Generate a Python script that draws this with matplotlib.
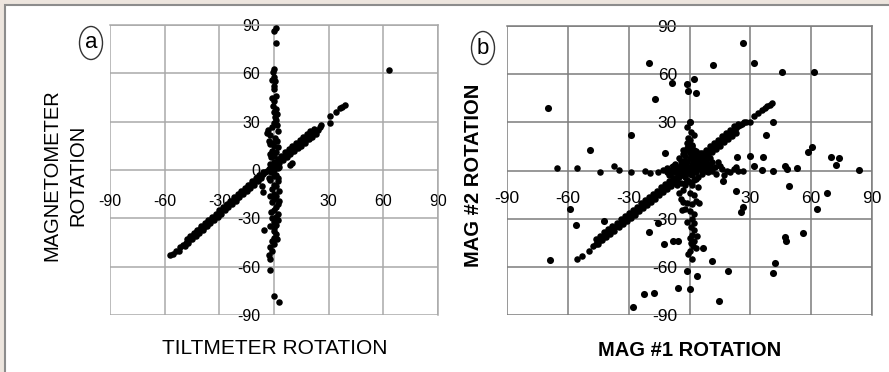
import numpy as np
import matplotlib.pyplot as plt
from matplotlib.patches import Rectangle, Ellipse

plt.rcParams['font.family'] = ['Liberation Sans', 'DejaVu Sans']

# panel a: tiltmeter rotation (x) vs magnetometer rotation (y), degrees
a_diag = [(-57, -53), (-55.5, -52), (-54, -50.5), (-51.5, -48), (-50, -46.5), (-48.5, -45),
          (-47, -44), (-46, -42), (-45, -41.5), (-44, -40), (-43, -39.5), (-42, -38),
          (-41, -37.5), (-40, -36), (-39, -36), (-38, -34.5), (-37, -33.5), (-36, -32),
          (-35, -31.5), (-34, -30.5), (-33, -29.5), (-32, -28.5), (-31, -27.5), (-30, -26.5),
          (-29, -25.5), (-28, -24.5), (-27, -23.5), (-26, -22.5), (-25, -21.5), (-24, -20.5),
          (-23, -19.5), (-22, -18.5), (-21, -17.5), (-20, -16.5), (-19, -15.5), (-18, -14.5),
          (-17, -13.5), (-16, -12.5), (-15, -11.5), (-14, -10.5), (-13, -9.5), (-12, -8.5),
          (-11, -7.5), (-10, -6.5), (-9, -5.5), (-8, -4.5), (-7, -3.5), (-6, -2.5), (-5, -1.5),
          (-4, -0.5), (-3, 0.5), (-2, 1.5), (-1, 2.5), (0, 3.5), (1, 4.5), (2, 5), (3, 6),
          (4, 7), (5, 8), (6, 8.5), (7, 9.5), (8, 10.5), (9, 11.5), (10, 12), (11, 13),
          (12, 14), (13, 15), (14, 16), (15, 16.5), (16, 17.5), (17, 18.5), (18, 19.5),
          (19, 20.5), (20, 21.5), (21, 22), (22, 23), (23, 24), (24, 25), (25, 27), (26, 28),
          (30.5, 29), (31, 33.5), (34, 36), (36, 38.5), (37.5, 39), (39, 40.3)]
a_hi = [(-48, -43), (-46, -41), (-44, -39), (-42, -37), (-40, -35), (-38, -33), (-36, -31),
        (-34, -29), (-32, -27), (-30, -25), (-28, -23), (-26, -21), (-24, -19), (-22, -17),
        (-20, -15), (-18, -13), (-16, -11), (-14, -9), (-12, -7), (-10, -5), (-8, -3),
        (-6, -1), (2, 7), (4, 9), (6, 11), (8, 13), (10, 15), (12, 16.5), (14, 18.5),
        (16, 20.5), (18, 22.5), (20, 24), (22, 25.5)]
a_lo = [(-52, -50), (-49, -47), (-47, -45), (-45, -43), (-43, -41), (-41, -39), (-39, -37),
        (-37, -35), (-35, -33), (-33, -31), (-31, -29), (-29, -27), (-27, -25), (-25, -23),
        (-23, -21), (-21, -19), (-19, -17), (-17, -15), (-15, -13), (-13, -11), (-11, -9),
        (-9, -7), (-7, -5), (3, 4.5), (5, 6.5), (7, 8), (9, 10), (11, 11.5), (13, 13.5),
        (15, 15), (17, 17), (19, 19), (21, 20.5), (23, 22.5)]
a_vertical = [(1, 88), (0, 86), (1, 79), (0, 63), (-0.5, 61), (0, 58), (0.5, 55), (0, 52),
              (0, 50), (1, 46), (0, 43), (-0.5, 40), (1, 38), (0, 36), (0.5, 33), (1, 31),
              (0, 29), (-1, 27), (-3.5, 25), (-4, 23), (-2, 22), (0.5, 20), (1.5, 18),
              (-1, 17), (0, 15), (2, 14), (-1, 12), (1, 11), (0, 9), (-1.5, 8), (2, 6),
              (0, 5), (-1, 3), (1, 2), (0, 0), (-1.5, -1), (1, -3), (0, -4), (-2, -6),
              (2, -7), (0, -9), (1, -10), (-1, -12), (2.5, -13), (0, -15), (1, -16),
              (0, -18), (-1, -20), (2, -21), (1, -23), (0, -25), (2, -27), (1, -29),
              (-1, -30), (0, -32), (1, -34), (0, -36), (0, -38), (1, -40), (0, -42),
              (-1, -44), (0, -46), (-2, -48), (-1, -50), (-2.5, -53), (-2, -55), (-2, -62),
              (-5.5, -37), (0, -78), (2.5, -82), (-2, 10), (2, -5), (2.5, -19), (-2, -35),
              (1.5, 35), (-1, 45), (-2, 16), (2, 24), (-2, -16), (2, -31), (-1.5, -26),
              (1.5, -43), (-2, 4), (2, 1), (-3, 18), (1.5, 28), (-1, 56)]
a_other = [(63, 62), (9, 3), (9.7, 4.1), (-6.8, -10), (-5.9, -13.5), (3, 2), (-3, -5)]

# panel b: mag #1 rotation (x) vs mag #2 rotation (y), degrees
b_diag = [(-55.6, -55), (-53, -53), (-49.5, -50), (-47.5, -47), (-46, -45.5), (-45, -44),
          (-44, -43.5), (-43, -42), (-42, -41), (-41, -40), (-40, -39), (-39, -37.5),
          (-38, -37), (-37, -36), (-36, -34.5), (-35, -34), (-34, -33), (-33, -32),
          (-32, -31), (-31, -29.5), (-30, -29), (-29, -28), (-28, -26.5), (-27, -26),
          (-26, -25), (-25, -23.5), (-24, -23), (-23, -22), (-22, -20.5), (-21, -20),
          (-20, -19), (-19, -17.5), (-18, -17), (-17, -16), (-16, -14.5), (-15, -14),
          (-14, -13), (-13, -11.5), (-12, -11), (-11, -10), (-10, -8.5), (-9, -8),
          (-8, -7), (-7, -5.5), (-6, -5), (-5, -4), (-4, -2.5), (-3, -2), (-2, -1),
          (-1, 0.5), (0, 1.5), (1, 3), (2, 4), (3, 5), (4, 6), (5, 7.5), (6, 8.5),
          (7, 9.5), (8, 10.5), (9, 12), (10, 13), (11, 14), (12, 15), (13, 16), (14, 17),
          (15, 18), (16, 19.5), (17, 20.5), (18, 21.5), (19, 22.5), (20, 23.5), (21, 24.5),
          (22, 25.5), (23, 26.5), (24, 27.5), (25, 28.5), (26, 29), (27, 30), (28, 30.5),
          (30, 30), (32, 34), (34, 36), (35.7, 37.5), (37, 39), (38.2, 40), (39.5, 41),
          (40.5, 42)]
b_hi = [(-46, -42.5), (-44, -40.5), (-42, -38.5), (-40, -36.5), (-38, -34.5), (-36, -32.5),
        (-34, -30.5), (-32, -28.5), (-30, -26.5), (-28, -24.5), (-26, -22.5), (-24, -20.5),
        (-22, -18.5), (-20, -16.5), (-18, -14.5), (-16, -12.5), (-14, -10.5), (-12, -8.5),
        (-10, -6.5), (-8, -4.5), (4, 9), (6, 11), (8, 13), (10, 15), (12, 17), (14, 19),
        (16, 21.5), (18, 23.5), (20, 25.5), (22, 27.5), (24, 29)]
b_lo = [(-45, -45.5), (-43, -43.5), (-41, -41.5), (-39, -39.5), (-37, -37.5), (-35, -35.5),
        (-33, -33.5), (-31, -31.5), (-29, -29.5), (-27, -27.5), (-25, -25.5), (-23, -23.5),
        (-21, -21.5), (-19, -19.5), (-17, -17.5), (-15, -15.5), (-13, -13.5), (-11, -11.5),
        (-9, -9.5), (-7, -7.5), (5, 5), (7, 7), (9, 9.5), (11, 11.5), (13, 13.5),
        (15, 15.5), (17, 17.5), (19, 19.5), (21, 21.5), (23, 23.5)]
b_blob = [(-6, 2), (-4, 4), (-2, 6), (0, 8), (2, 10), (-3, 0), (-1, 2), (1, 4), (3, 6),
          (5, 8), (0, -2), (2, 0), (4, 2), (6, 4), (8, 6), (-2, -4), (1, -3), (3, -1),
          (5, 1), (7, 3), (9, 4), (-5, -2), (-4, 6), (0, 12), (-1, 14), (1, 16), (4, 10),
          (-7, 4), (-8, 1), (6, -2), (3, -5), (-1, -6), (10, 8), (8, 0), (2, 13), (-3, 10),
          (11, 5), (-9, -1), (-10, -3), (-8, -5), (-6, -7), (-4, -8), (-2, -9), (0, -7),
          (2, -6), (4, -4), (6, 0), (8, 2), (10, 2), (-7, -1), (-5, 1), (-3, 3), (-1, 5),
          (1, 7), (3, 9), (5, 11), (-2, 9), (0, 11), (2, 1), (4, 5), (-5, 8), (-8, 3),
          (-6, -4), (-4, -1), (-1, -1), (1, 0), (3, 3), (6, 6), (7, 1), (-9, -7), (1, -9),
          (-3, 13), (0, 15), (3, 12), (8, 9), (-11, -1)]
b_vertical = [(0.3, 30), (0.7, 24), (-0.5, 20), (-1.3, 17), (1, 15), (-2, 12), (0, 19),
              (-1, 27), (2, 22), (-3, -12), (0, -14), (2, -15), (-4, -18), (-1, -20),
              (1, -21), (3, -19), (-2, -24), (0, -25), (2, -27), (1, -30), (-1, -32),
              (0.5, -35), (2, -37), (1, -40), (0, -42), (2, -44), (1.5, -47), (0, -50),
              (3, -48), (-0.5, -52), (1, -55), (-5.4, -14), (-3, -19.7), (-3.8, -24.5),
              (4.9, -20), (-6, -9), (-2, -8), (4, -10), (2, -33), (3.5, -41), (0.5, -45)]
b_horiz = [(10, 4), (12.7, 2), (16, 1), (18.4, 0), (21.7, 1), (26.6, 0), (13, -2), (15, 3),
           (11, 0), (20, -1), (23, 2), (14, 5), (9, -1), (17, -3), (24, -0.5),
           (-65.5, 1.5), (-55.6, 1.5), (-44, -0.8), (-37, 2.5), (-35, 0.6), (-28.8, -0.8),
           (-21.9, 0), (-19.7, -1.7), (-15.3, -1), (-13, 0.5), (-11, 1.5), (-9, 0.5)]
b_outliers = [(26.6, 79.3), (-20.2, 66.8), (11.8, 66), (31.9, 66.8), (45.6, 61.6),
              (61.5, 61.6), (-1.3, 54), (2.3, 56.8), (-0.5, 49.8), (3, 48), (-8.4, 54.4),
              (-17, 44.6), (-69.6, 39), (-29, 22), (0.3, 30), (37.8, 22.4), (41.4, 30),
              (-49, 13), (-12, 11), (23.4, 8.3), (30, 9), (36, 8.7), (60.4, 14.5),
              (58.2, 11.4), (70, 8.3), (73.8, 7.7), (72, 3.7), (83.7, 0.6), (31.6, 2.9),
              (35.7, 0.4), (41.4, 0), (47.2, 2.5), (48, 1), (53, 1.5), (16.4, -6.6),
              (49, -9.8), (22.9, -12.9), (67.8, -14), (25.5, -26), (26.3, -22.8),
              (63, -24), (-58.9, -24), (-56, -33.8), (-42.4, -31.7), (-20.2, -38.4),
              (-15.3, -32.8), (-12.8, -45.6), (-7.9, -43.6), (-5.9, -43.6), (47.2, -41.5),
              (47.5, -44.2), (55.8, -38.8), (6.9, -48.3), (11, -56.4), (18.75, -62.7),
              (42.3, -57.5), (41.4, -63.9), (-1, -62.9), (3.6, -65.6), (-5.9, -73),
              (0.3, -73.7), (-17.3, -76), (-22.4, -77.2), (14.6, -81.5), (-28, -85),
              (-68.8, -55.6)]

ticks = [-90, -60, -30, 0, 30, 60, 90]
xtick_labels = ['-90', '-60', '-30', '', '30', '60', '90']
ytick_labels = ['-90', '-60', '-30', '0', '30', '60', '90']

fig = plt.figure(figsize=(8.89, 3.72), dpi=100, facecolor='#ede5de')
fig.patches.append(Rectangle((5 / 889, -0.1), 1.0, 1.1 - 5 / 372, transform=fig.transFigure,
                             facecolor='white', edgecolor='#8c8c8c', lw=1.5, zorder=-5))

ax1 = fig.add_axes([110 / 889, 1 - 315 / 372, 328 / 889, 290 / 372])
ax2 = fig.add_axes([507 / 889, 1 - 315 / 372, 365 / 889, 289 / 372])


def style(ax, gcol, fs, xpad, ypad):
    # move the tick-label axes to the centre first (this resets tick styling)
    ax.spines['left'].set_position(('data', 0))
    ax.spines['bottom'].set_position(('data', 0))
    ax.set_facecolor('none')
    ax.set_xlim(-90, 90)
    ax.set_ylim(-90, 90)
    ax.set_xticks(ticks)
    ax.set_yticks(ticks)
    ax.set_xticklabels(xtick_labels)
    ax.set_yticklabels(ytick_labels)
    for s in ax.spines.values():
        s.set_visible(False)
    ax.tick_params(axis='x', length=0, pad=xpad, labelsize=fs)
    ax.tick_params(axis='y', length=0, pad=ypad, labelsize=fs)
    ax.grid(True, color=gcol, lw=1.1)
    for s in ['top', 'right']:
        ax.spines[s].set_visible(True)
        ax.spines[s].set_color(gcol)
        ax.spines[s].set_linewidth(1.1)


style(ax1, '#a9a9a9', 11.5, 17, 10)
style(ax2, '#7c7c7c', 12.5, 15, 9)

for grp in [a_diag, a_hi, a_lo, a_vertical, a_other]:
    p = np.array(grp)
    ax1.scatter(p[:, 0], p[:, 1], s=22, color='black', lw=0, zorder=3, clip_on=False)

for grp in [b_diag, b_hi, b_lo, b_blob, b_vertical, b_horiz]:
    p = np.array(grp)
    ax2.scatter(p[:, 0], p[:, 1], s=22, color='black', lw=0, zorder=3, clip_on=False)
p = np.array(b_outliers)
ax2.scatter(p[:, 0], p[:, 1], s=26, color='black', lw=0, zorder=3, clip_on=False)

# axis titles
fig.text(274.5 / 889, 1 - 348 / 372, 'TILTMETER ROTATION', ha='center', va='center',
         fontsize=15)
fig.text(52 / 889, 1 - 175 / 372, 'MAGNETOMETER', ha='center', va='center',
         rotation=90, fontsize=14.5)
fig.text(78 / 889, 1 - 175 / 372, 'ROTATION', ha='center', va='center',
         rotation=90, fontsize=14.5)
fig.text(689.5 / 889, 1 - 350 / 372, 'MAG #1 ROTATION', ha='center', va='center',
         fontsize=14.5, fontweight='bold')
fig.text(473 / 889, 1 - 175 / 372, 'MAG #2 ROTATION', ha='center', va='center',
         rotation=90, fontsize=14.5, fontweight='bold')

# panel letters in ellipses
for cx, cy, letter in [(91, 43, 'a'), (483, 48, 'b')]:
    fig.add_artist(Ellipse((cx / 889, 1 - cy / 372), 23 / 889, 33 / 372,
                           transform=fig.transFigure, facecolor='white',
                           edgecolor='#333333', lw=1))
    fig.text(cx / 889, 1 - cy / 372, letter, ha='center', va='center', fontsize=16)

fig.savefig('out.png', dpi=100, facecolor=fig.get_facecolor())
